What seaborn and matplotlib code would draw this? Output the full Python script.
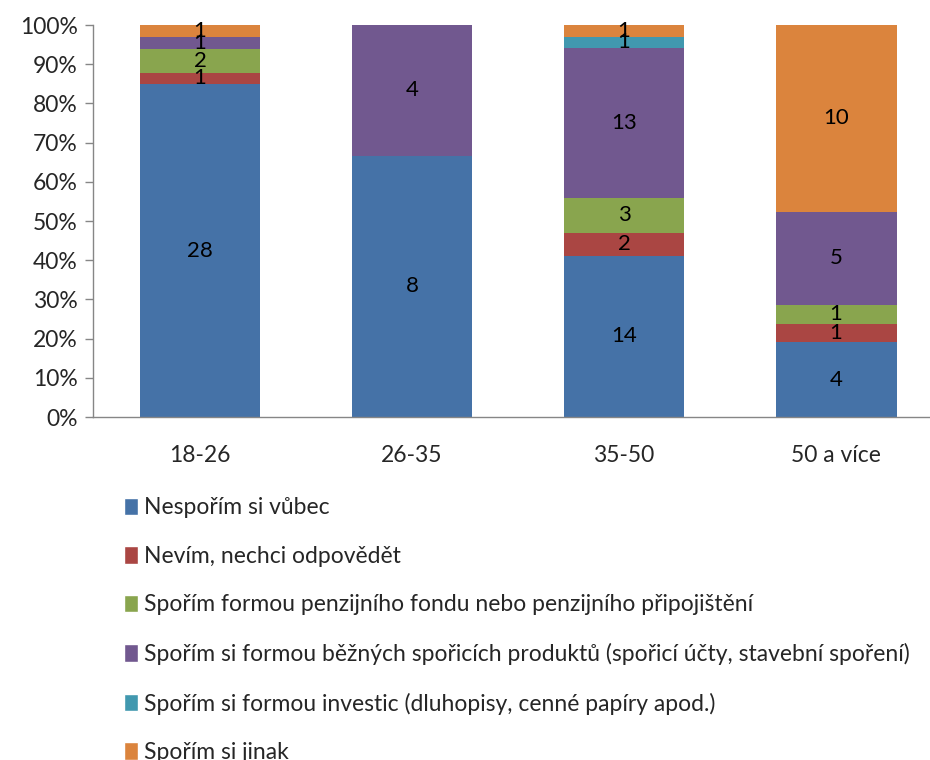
import numpy as np
import pandas as pd
import seaborn as sns
import matplotlib.pyplot as plt
from matplotlib.patches import Patch

# data
categories = ["18-26", "26-35", "35-50", "50 a více"]
series = [
    "Nespořím si vůbec",
    "Nevím, nechci odpovědět",
    "Spořím formou penzijního fondu nebo penzijního připojištění",
    "Spořím si formou běžných spořicích produktů (spořicí účty, stavební spoření)",
    "Spořím si formou investic (dluhopisy, cenné papíry apod.)",
    "Spořím si jinak",
]
nesporim = [28, 8, 14, 4]
nevim = [1, 0, 2, 1]
penzijni = [2, 0, 3, 1]
bezne = [1, 4, 13, 5]
investice = [0, 0, 1, 0]
jinak = [1, 0, 1, 10]
colors = ["#4572A7", "#AA4643", "#89A54E", "#71588F", "#4198AF", "#DB843D"]

sns.set_theme(style="white")
plt.rcParams["font.family"] = ["Lato", "DejaVu Sans"]

counts = pd.DataFrame([nesporim, nevim, penzijni, bezne, investice, jinak],
                      index=series, columns=categories)
pct = counts / counts.sum(axis=0) * 100
top = pct.cumsum(axis=0)
bottom = top - pct

fig = plt.figure(figsize=(9.3, 7.6), dpi=100)
ax = fig.add_axes([0.1, (760 - 417) / 760, 0.9, 392 / 760])

# stacked bars: draw cumulative heights from the top series down
for i in reversed(range(len(series))):
    d = pd.DataFrame({"cat": categories, "val": top.iloc[i].values})
    sns.barplot(data=d, x="cat", y="val", color=colors[i], width=0.57,
                saturation=1, linewidth=0, ax=ax, order=categories)

for i in range(len(series)):
    for j, c in enumerate(categories):
        n = counts.iloc[i, j]
        if n > 0:
            ax.text(j, bottom.iloc[i, j] + pct.iloc[i, j] / 2, str(n),
                    ha="center", va="center", fontsize=16, color="black")

ax.set_xlim(-0.505, 3.443)
ax.set_ylim(0, 100)
ax.set_yticks(np.arange(0, 101, 10))
ax.set_yticklabels([f"{v}%" for v in range(0, 101, 10)], fontsize=16.5)
ax.tick_params(axis="x", labelsize=16.5, length=0, pad=20)
ax.tick_params(axis="y", left=True, length=6, color="#868686", width=1, pad=5)
ax.set_xlabel("")
ax.set_ylabel("")
for s in ["top", "right"]:
    ax.spines[s].set_visible(False)
for s in ["left", "bottom"]:
    ax.spines[s].set_color("#868686")
    ax.spines[s].set_linewidth(1)

handles = [Patch(facecolor=colors[i], label=series[i]) for i in range(len(series))]
fig.legend(handles=handles, loc="upper left", bbox_to_anchor=(0.124, 0.3575),
           frameon=False, fontsize=16.5, labelspacing=1.2, handlelength=0.6,
           handleheight=0.8, handletextpad=0.25, borderaxespad=0)

fig.savefig("out.png", dpi=100)
